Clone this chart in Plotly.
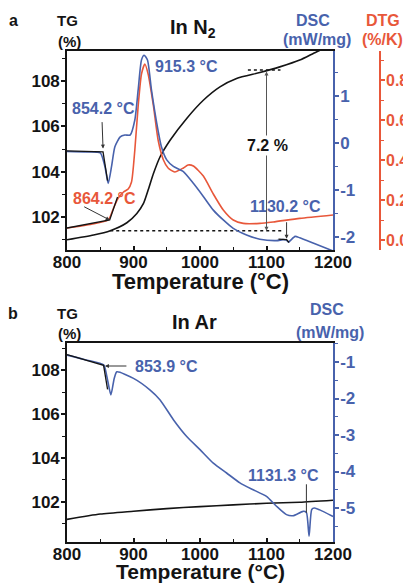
import plotly.graph_objects as go

# ---------------- data ----------------
# Panel a : In N2
a_T_tg = [800, 840, 865, 890, 905, 915, 922, 930, 940, 955, 980, 1005, 1030, 1055, 1090, 1120, 1150, 1175, 1200]
a_tg = [101.0, 101.21, 101.40, 101.75, 102.16, 102.6, 103.19, 103.92, 104.66, 105.39, 106.35, 107.15,
        107.74, 108.11, 108.37, 108.62, 108.92, 109.28, 109.6]

a_T_dsc = [800, 830, 850, 857, 862, 867, 872, 880, 887, 895, 902, 907, 912, 916, 921, 927, 935, 942, 950,
           960, 975, 990, 1005, 1020, 1035, 1050, 1070, 1090, 1115, 1125, 1130, 1133, 1143, 1150, 1170, 1200]
a_dsc = [-0.18, -0.19, -0.21, -0.50, -0.86, -0.50, -0.08, 0.13, 0.17, 0.17, 0.49, 1.13, 1.77, 1.87, 1.77,
         1.13, 0.42, -0.08, -0.36, -0.50, -0.61, -0.86, -1.14, -1.43, -1.64, -1.82, -1.96, -2.05, -2.08,
         -2.06, -2.07, -2.11, -1.99, -2.02, -2.13, -2.30]

a_T_dtg = [800, 830, 862, 870, 877, 885, 892, 897, 902, 907, 912, 917, 922, 930, 937, 945, 952, 962, 975,
           982, 990, 1005, 1020, 1035, 1050, 1065, 1090, 1110, 1150, 1200]
a_dtg = [0.06, 0.075, 0.10, 0.16, 0.21, 0.24, 0.255, 0.29, 0.45, 0.67, 0.83, 0.88, 0.83, 0.67, 0.50, 0.40,
         0.36, 0.34, 0.36, 0.375, 0.37, 0.32, 0.23, 0.15, 0.10, 0.083, 0.083, 0.09, 0.108, 0.125]

# onset tangent constructions
a_on_dsc_T = [800, 854.2, 861]
a_on_dsc = [-0.17, -0.19, -0.80]
a_on_dtg_T = [800, 864.2, 876]
a_on_dtg = [0.06, 0.10, 0.215]
a_on2_T = [1118, 1130.2, 1134]
a_on2_dsc = [-2.05, -2.06, -2.12]

# TG levels for the 7.2 % mass change
tg_low_T = [865, 1124]
tg_low = 101.4
tg_high_T = [1072, 1121]
tg_high = 108.48
step_T = 1100

# Panel b : In Ar
b_T_tg = [800, 850, 900, 950, 1000, 1050, 1100, 1150, 1200]
b_tg = [101.21, 101.45, 101.58, 101.70, 101.79, 101.87, 101.94, 101.99, 102.08]

b_T_dsc = [800, 830, 855, 860, 866, 871, 875, 900, 925, 940, 960, 980, 1000, 1020, 1040, 1060, 1080, 1100,
           1115, 1130, 1140, 1155, 1160, 1164, 1168, 1172, 1180, 1200]
b_dsc = [-0.81, -0.95, -1.08, -1.40, -1.90, -1.45, -1.27, -1.45, -1.77, -2.04, -2.58, -3.04, -3.40, -3.77,
         -4.04, -4.31, -4.50, -4.68, -4.95, -5.18, -5.21, -5.09, -5.12, -5.77, -5.04, -5.0, -5.05, -5.23]
b_on_T = [800, 855, 861]
b_on_dsc = [-0.80, -1.09, -1.75]

x_ticks = [800, 900, 1000, 1100, 1200]
tg_ticks = [102, 104, 106, 108]
dsc_a_ticks = [-2, -1, 0, 1]
dtg_ticks = [0.0, 0.2, 0.4, 0.6, 0.8]
dsc_b_ticks = [-5, -4, -3, -2, -1]

# ---------------- styling ----------------
BLUE = '#4862ac'
RED = '#e8573a'
BLACK = '#141414'
F = 'Liberation Sans, Arial, sans-serif'
OFF = 8                      # page body margin of the html page
W, H = 411 - OFF, 583 - OFF


def px(x, y):
    return (x - OFF) / W, 1 - (y - OFF) / H


fig = go.Figure()


def line(x, y, xa, ya, color, width=1.6, dash=None, shape='spline'):
    fig.add_trace(go.Scatter(x=x, y=y, xaxis=xa, yaxis=ya, mode='lines',
                             line=dict(color=color, width=width, dash=dash, shape=shape,
                                       smoothing=0.6 if shape == 'spline' else None),
                             hoverinfo='skip', showlegend=False))

# panel a
line(a_T_tg, a_tg, 'x', 'y', BLACK)
line(tg_low_T, [tg_low] * 2, 'x', 'y', BLACK, 1.5, 'dot', 'linear')
line(tg_high_T, [tg_high] * 2, 'x', 'y', BLACK, 1.5, 'dot', 'linear')
line(a_T_dtg, a_dtg, 'x', 'y2', RED)
line(a_on_dtg_T, a_on_dtg, 'x', 'y2', BLACK, 1.3, None, 'linear')
line(a_T_dsc, a_dsc, 'x', 'y3', BLUE)
line(a_on_dsc_T, a_on_dsc, 'x', 'y3', BLACK, 1.3, None, 'linear')
line(a_on2_T, a_on2_dsc, 'x', 'y3', BLACK, 1.3, None, 'linear')
# panel b
line(b_T_tg, b_tg, 'x2', 'y4', BLACK)
line(b_T_dsc, b_dsc, 'x2', 'y5', BLUE)
line(b_on_T, b_on_dsc, 'x2', 'y5', BLACK, 1.3, None, 'linear')

tf = lambda c, s=17: dict(family=F, size=s, color=c, weight='bold')
XD = [(67 - OFF) / W, (333 - OFF) / W]
YA = [1 - (250 - OFF) / H, 1 - (51 - OFF) / H]
YB = [1 - (542 - OFF) / H, 1 - (343 - OFF) / H]


def fmt(v):
    if isinstance(v, float):
        return '%.1f' % v
    return str(v)


def minor_vals(major, step, lo, hi):
    vals = []
    v = major[0] - step * 4
    while v <= hi + 1e-9:
        if lo - 1e-9 <= v and all(abs(v - m) > 1e-6 for m in major):
            vals.append(round(v, 4))
        v += step
    return vals


def xax(anchor):
    return dict(domain=XD, range=[800, 1200], anchor=anchor, tickmode='array', tickvals=x_ticks,
                ticktext=[str(t) for t in x_ticks], ticks='inside', ticklen=4,
                tickwidth=1.5, tickcolor=BLACK,
                minor=dict(tickvals=minor_vals(x_ticks, 50, 800, 1200), ticks='inside', ticklen=3,
                           tickwidth=1.2, tickcolor=BLACK),
                showline=True, linecolor=BLACK, linewidth=1.6, mirror=True, showgrid=False, zeroline=False,
                tickfont=tf(BLACK), automargin=False, fixedrange=True, ticklabelstandoff=-4)


def yax(dom, rng, ticks, minor, color, anchor, side='left', overlay=None, pos=None, fs=17):
    d = dict(domain=dom, range=rng, tickmode='array', tickvals=ticks, ticktext=[fmt(t) for t in ticks],
             ticks='outside', ticklen=4, tickwidth=1.5, tickcolor=color,
             minor=dict(tickvals=minor_vals(ticks, minor, rng[0], rng[1]), ticks='outside', ticklen=3,
                        tickwidth=1.2, tickcolor=color),
             showline=True, linecolor=color, linewidth=1.6, showgrid=False, zeroline=False, side=side,
             tickfont=tf(color, fs), automargin=False, fixedrange=True, anchor=anchor, ticklabelstandoff=-2)
    if overlay:
        d['overlaying'] = overlay
    if pos is not None:
        d['position'] = pos
    return d


fig.update_layout(
    width=W, height=H, margin=dict(l=0, r=0, t=0, b=0),
    paper_bgcolor='white', plot_bgcolor='white', showlegend=False,
    font=dict(family=F, color=BLACK),
    xaxis=xax('y'),
    yaxis=yax(YA, [100.55, 109.32], tg_ticks, 1, BLACK, 'x'),
    yaxis2=yax(YA, [-0.05, 0.945], dtg_ticks, 0.1, RED, 'free', 'right', 'y', (380 - OFF) / W, 16),
    yaxis3=yax(YA, [-2.28, 1.96], dsc_a_ticks, 0.5, BLUE, 'x', 'right', 'y'),
    xaxis2=xax('y4'),
    yaxis4=yax(YB, [100.18, 109.23], tg_ticks, 1, BLACK, 'x2'),
    yaxis5=yax(YB, [-5.93, -0.48], dsc_b_ticks, 0.5, BLUE, 'x2', 'right', 'y4'),
)

ann = []


def text(t, x, y, size, color=BLACK, xanchor='center'):
    xp, yp = px(x, y)
    ann.append(dict(text=t, x=xp, y=yp, xref='paper', yref='paper', showarrow=False, xanchor=xanchor,
                    yanchor='middle', font=dict(family=F, size=size, color=color, weight='bold')))

# panel titles
text('a', 13, 20, 16)
text('TG', 68, 20, 15)
text('(%)', 69, 41, 15)
text('In N<sub>2</sub>', 193, 28, 20)
text('DSC', 313, 20, 16, BLUE)
text('(mW/mg)', 317, 40, 16, BLUE)
text('DTG', 383, 20, 16, RED)
text('(%/K)', 382, 40, 16, RED)
text('Temperature (°C)', 200, 281, 22)
text('b', 13, 313, 16)
text('TG', 68, 313, 15)
text('(%)', 69, 333, 15)
text('In Ar', 194, 322, 20)
text('DSC', 327, 309, 16, BLUE)
text('(mW/mg)', 330, 332, 16, BLUE)
text('Temperature (°C)', 200, 571, 21)

# value labels
text('915.3 °C', 153, 66, 16, BLUE, 'left')
text('854.2 °C', 70, 108, 16, BLUE, 'left')
text('864.2 °C', 71, 199, 16, RED, 'left')
text('1130.2 °C', 248, 206, 16, BLUE, 'left')
text('853.9 °C', 133, 366, 16, BLUE, 'left')
text('1131.3 °C', 246, 475, 16, BLUE, 'left')

# arrows
GREY = '#333333'
ann.append(dict(x=854.2, y=-0.12, xref='x', yref='y3', ax=-1, ay=-28, text='', showarrow=True,
                arrowhead=2, arrowsize=0.8, arrowwidth=1, arrowcolor=GREY))
ann.append(dict(x=864.2, y=0.10, xref='x', yref='y2', ax=-27, ay=-14, text='', showarrow=True,
                arrowhead=2, arrowsize=0.8, arrowwidth=1, arrowcolor=GREY))
ann.append(dict(x=1130.2, y=-2.04, xref='x', yref='y3', ax=0, ay=-18, text='', showarrow=True,
                arrowhead=2, arrowsize=0.8, arrowwidth=1, arrowcolor=GREY))
ann.append(dict(x=857, y=-1.11, xref='x2', yref='y5', ax=23, ay=0, text='', showarrow=True,
                arrowhead=2, arrowsize=0.8, arrowwidth=1, arrowcolor=GREY))
ann.append(dict(x=1160, y=-5.13, xref='x2', yref='y5', ax=0, ay=-30, text='', showarrow=True,
                arrowhead=0, arrowwidth=1, arrowcolor=GREY))
# 7.2 % double arrow
ann.append(dict(x=step_T, y=tg_low, xref='x', yref='y', ax=step_T, ay=tg_high, axref='x', ayref='y',
                text='', showarrow=True, arrowhead=2, startarrowhead=2, arrowside='end+start',
                arrowsize=0.8, arrowwidth=1, arrowcolor='#555555'))
xp, yp = px(267, 135)
ann.append(dict(text='7.2 %', x=xp, y=yp, xref='paper', yref='paper', showarrow=False, bgcolor='white',
                font=dict(family=F, size=16, color=BLACK, weight='bold')))

fig.update_layout(annotations=ann)
fig.write_html('out.html')
